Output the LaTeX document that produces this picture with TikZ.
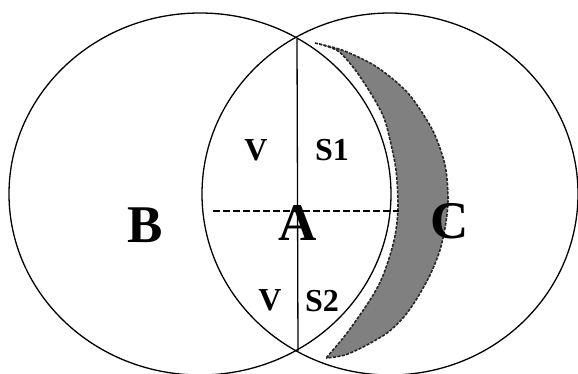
\documentclass[tikz,border=0pt]{standalone}
\usepackage{fontspec}
\setmainfont{Liberation Serif}
\begin{document}
\begin{tikzpicture}[x=1pt,y=-1pt,line width=1.3pt,
  biglab/.style={font=\fontsize{53}{53}\bfseries\selectfont,inner sep=0pt,anchor=base},
  smalllab/.style={font=\fontsize{32}{32}\bfseries\selectfont,inner sep=0pt,anchor=base},
  shade/.style={fill=black!50,draw=black!85,line width=1.6pt,dash pattern=on 3pt off 1.5pt}]
  \useasboundingbox (0,0) rectangle (578,373);
  % the shaded crescent beside the left circle
  \filldraw[shade]
    plot[smooth] coordinates {(315,43) (338,51) (356,71) (373,97) (384,118) (390,140) (396,170) (398,205) (396,230) (391,252) (382,278) (370,300) (347,333) (327,357)}
    -- plot[smooth] coordinates {(327,358) (345,355) (365,346) (387,333) (403,318) (416,300) (430,275) (440,250) (446,222) (448,197) (445,165) (433,131) (412,98) (394,80) (372,64) (342,50) (315,43)} -- cycle;
  \draw (200,194) ellipse [x radius=191, y radius=181];
  \draw (390,194) ellipse [x radius=188, y radius=181];
  \coordinate (top) at (297,39);
  \coordinate (bot) at (298,351);
  \coordinate (dl) at (213,211);
  \coordinate (dr) at (399,211);
  \draw (top) -- (bot);
  \draw[dash pattern=on 7pt off 3pt] (dl) -- (dr);
  \node[biglab] (B) at (145,242) {B};
  \node[biglab] (A) at (298,240) {A};
  \node[biglab] (C) at (450,238) {C};
  \node[smalllab] (v1) at (256,160) {V};
  \node[smalllab] (s1) at (332,160) {S1};
  \node[smalllab] (v2) at (270,310) {V};
  \node[smalllab] (s2) at (322,311) {S2};
\end{tikzpicture}
\end{document}
